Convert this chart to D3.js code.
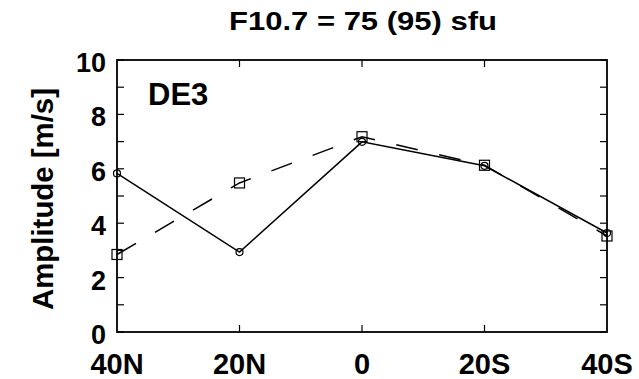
<!DOCTYPE html>
<html>
<head>
<meta charset="utf-8">
<script src="https://cdn.jsdelivr.net/npm/d3@7"></script>
<style>
  html, body { margin: 0; padding: 0; background: #fff; }
  svg { display: block; }
  text { font-family: "Liberation Sans", Arial, Helvetica, sans-serif; font-weight: bold; fill: #000; }
</style>
</head>
<body>
<svg id="chart" width="639" height="379"></svg>
<script>
// Latitude bins along the x axis
const latitudes = ["40N", "20N", "0", "20S", "40S"];
// DE3 amplitude, solid line with circles
const solidAmp = [5.83, 2.94, 6.99, 6.11, 3.64];
// DE3 amplitude, dashed line with squares
const dashedAmp = [2.85, 5.48, 7.18, 6.13, 3.53];
// Y-axis labelled ticks
const yTicks = [0, 2, 4, 6, 8, 10];
const yMinorTicks = [0, 1, 2, 3, 4, 5, 6, 7, 8, 9, 10];

const titleText = "F10.7 = 75 (95) sfu";
const panelLabel = "DE3";
const yTitle = "Amplitude [m/s]";

const svg = d3.select("#chart");
const m = { left: 117, right: 607, top: 60, bottom: 332 };

const x = d3.scalePoint().domain(latitudes).range([m.left, m.right]);
const y = d3.scaleLinear().domain([0, 10]).range([m.bottom, m.top]);

// Inward ticks on all four sides
const tickLen = 7;
const g = svg.append("g");
g.selectAll("line.yl").data(yMinorTicks).join("line")
  .attr("x1", m.left).attr("x2", m.left + tickLen)
  .attr("y1", d => y(d)).attr("y2", d => y(d))
  .attr("stroke", "#000").attr("stroke-width", 1.2);
g.selectAll("line.yr").data(yMinorTicks).join("line")
  .attr("x1", m.right).attr("x2", m.right - tickLen)
  .attr("y1", d => y(d)).attr("y2", d => y(d))
  .attr("stroke", "#000").attr("stroke-width", 1.2);
const innerLats = latitudes.slice(1, -1);
g.selectAll("line.xb").data(innerLats).join("line")
  .attr("x1", d => x(d)).attr("x2", d => x(d))
  .attr("y1", m.bottom).attr("y2", m.bottom - tickLen)
  .attr("stroke", "#000").attr("stroke-width", 1.2);
g.selectAll("line.xt").data(innerLats).join("line")
  .attr("x1", d => x(d)).attr("x2", d => x(d))
  .attr("y1", m.top).attr("y2", m.top + tickLen)
  .attr("stroke", "#000").attr("stroke-width", 1.2);

// Frame
svg.append("rect")
  .attr("x", m.left).attr("y", m.top)
  .attr("width", m.right - m.left).attr("height", m.bottom - m.top)
  .attr("fill", "none").attr("stroke", "#000").attr("stroke-width", 1.8);

// Y tick labels
svg.selectAll("text.ytl").data(yTicks).join("text")
  .attr("class", "ytl")
  .attr("x", 106).attr("y", d => y(d) + 12)
  .attr("text-anchor", "end")
  .attr("font-size", 27)
  .text(d => d);

// X tick labels
svg.selectAll("text.xtl").data(latitudes).join("text")
  .attr("class", "xtl")
  .attr("x", d => x(d)).attr("y", 374)
  .attr("text-anchor", "middle")
  .attr("font-size", 29)
  .text(d => d);

// Title
svg.append("text")
  .attr("x", 363).attr("y", 30)
  .attr("text-anchor", "middle")
  .attr("font-size", 25)
  .attr("textLength", 268).attr("lengthAdjust", "spacingAndGlyphs")
  .text(titleText);

// Panel label
svg.append("text")
  .attr("x", 148).attr("y", 105)
  .attr("font-size", 31)
  .text(panelLabel);

// Y axis title
svg.append("text")
  .attr("transform", "translate(53,199) rotate(-90)")
  .attr("text-anchor", "middle")
  .attr("font-size", 30)
  .attr("textLength", 222).attr("lengthAdjust", "spacingAndGlyphs")
  .text(yTitle);

const line = d3.line().x((d, i) => x(latitudes[i])).y(d => y(d));

// Dashed series
svg.append("path").datum(dashedAmp)
  .attr("d", line)
  .attr("fill", "none").attr("stroke", "#000").attr("stroke-width", 1.5)
  .attr("stroke-dasharray", "22,22");

// Solid series
svg.append("path").datum(solidAmp)
  .attr("d", line)
  .attr("fill", "none").attr("stroke", "#000").attr("stroke-width", 1.5);

// Square markers
svg.selectAll("rect.sq").data(dashedAmp).join("rect")
  .attr("x", (d, i) => x(latitudes[i]) - 5)
  .attr("y", d => y(d) - 5)
  .attr("width", 10).attr("height", 10)
  .attr("fill", "none").attr("stroke", "#000").attr("stroke-width", 1.2);

// Circle markers
svg.selectAll("circle.ci").data(solidAmp).join("circle")
  .attr("cx", (d, i) => x(latitudes[i]))
  .attr("cy", d => y(d))
  .attr("r", 3.5)
  .attr("fill", "none").attr("stroke", "#000").attr("stroke-width", 1.2);
</script>
</body>
</html>
